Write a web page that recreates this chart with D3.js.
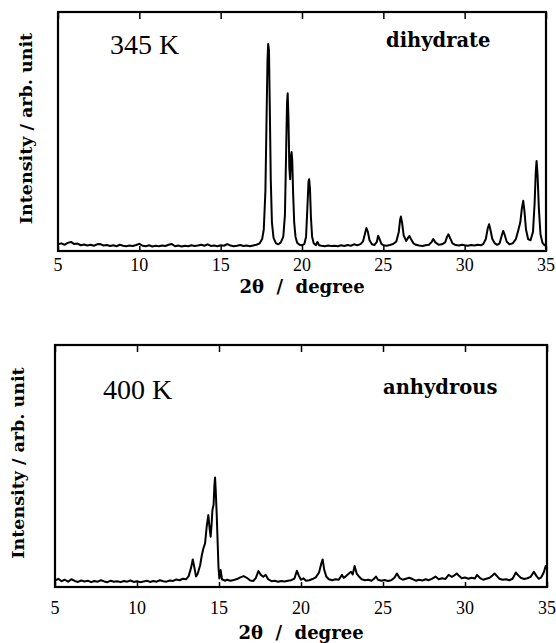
<!DOCTYPE html>
<html>
<head>
<meta charset="utf-8">
<script src="https://cdn.jsdelivr.net/npm/d3@7"></script>
<style>
  body { margin: 0; background: #fff; }
  svg text { fill: #000; }
  .tick-label { font-family: "Liberation Serif", serif; font-size: 18px; }
  .axis-title { font-family: "DejaVu Serif", serif; font-weight: bold; font-size: 18px; }
  .temp { font-family: "Liberation Serif", serif; font-size: 28px; }
  .phase { font-family: "DejaVu Serif", serif; font-weight: bold; font-size: 19.5px; }
</style>
</head>
<body>
<div id="chart"></div>
<script>
/* XRD patterns: dihydrate at 345 K, anhydrous at 400 K */

const xTicks = [5, 10, 15, 20, 25, 30, 35];

// [2theta, intensity] (arb. unit, 0-100 full panel)
const dihydrate = [
  [5.0,2.8],[5.2,3.2],[5.4,2.6],[5.6,3.4],[5.8,3.8],[6.0,2.9],[6.2,3.1],[6.4,2.4],[6.6,2.7],[6.8,2.3],
  [7.0,2.6],[7.2,2.2],[7.4,2.8],[7.6,2.9],[7.8,2.3],[8.0,2.5],[8.2,2.1],[8.4,2.4],[8.6,2.0],[8.8,2.6],
  [9.0,2.2],[9.2,2.0],[9.4,2.3],[9.6,2.1],[9.8,2.5],[10.0,3.0],[10.2,2.2],[10.4,2.0],[10.6,2.4],[10.8,1.9],
  [11.0,2.2],[11.2,2.0],[11.4,2.3],[11.6,2.1],[11.8,2.6],[12.0,2.9],[12.2,2.0],[12.4,2.3],[12.6,1.9],[12.8,2.2],
  [13.0,2.0],[13.2,2.4],[13.4,2.1],[13.6,2.3],[13.8,2.6],[14.0,2.2],[14.2,2.8],[14.4,2.1],[14.6,2.3],[14.8,2.0],
  [15.0,2.4],[15.2,2.2],[15.4,2.9],[15.6,2.3],[15.8,2.0],[16.0,2.2],[16.2,2.5],[16.4,2.1],[16.6,2.3],[16.8,2.0],
  [17.0,2.3],[17.2,2.6],[17.4,3.2],[17.55,5.0],[17.65,9],[17.75,25],[17.82,55],[17.88,80],[17.92,86.6],[17.97,84],
  [18.02,60],[18.08,30],[18.15,12],[18.25,5.5],[18.4,3.2],[18.55,2.8],[18.7,3.6],[18.85,6],[18.95,15],[19.02,40],
  [19.08,62],[19.12,66],[19.17,55],[19.22,35],[19.27,30],[19.33,40],[19.36,41.4],[19.40,38],[19.45,25],[19.52,12],
  [19.6,6],[19.7,3.5],[19.85,2.6],[20.0,2.4],[20.15,3.0],[20.25,6],[20.33,18],[20.40,29],[20.44,30],[20.49,26],
  [20.55,14],[20.62,6],[20.72,3.2],[20.85,2.4],[20.95,3.8],[21.05,2.4],[21.2,2.2],[21.4,2.0],[21.6,2.3],[21.8,2.1],
  [22.0,2.2],[22.2,2.0],[22.4,2.4],[22.6,2.1],[22.8,2.5],[23.0,2.2],[23.2,2.8],[23.4,2.4],[23.6,2.9],[23.75,4.0],
  [23.88,7.5],[23.96,9.6],[24.05,8],[24.15,4.5],[24.3,2.8],[24.45,2.5],[24.6,3.8],[24.68,6.4],[24.76,5.2],[24.88,3.0],
  [25.0,2.4],[25.2,2.2],[25.4,2.5],[25.6,2.9],[25.8,4],[25.95,8],[26.03,13],[26.08,14.4],[26.15,12],[26.25,6.5],
  [26.4,4.2],[26.52,5.5],[26.6,6.3],[26.7,5],[26.85,3.2],[27.0,2.6],[27.2,2.3],[27.4,2.1],[27.6,2.4],[27.8,2.6],
  [27.95,3.6],[28.07,5],[28.2,3.6],[28.4,2.6],[28.6,2.8],[28.8,3.6],[28.92,6],[29.0,7],[29.1,5.5],[29.25,3.2],
  [29.45,2.5],[29.65,2.3],[29.85,2.6],[30.0,2.4],[30.2,2.2],[30.4,2.5],[30.6,2.3],[30.8,2.6],[31.0,2.4],[31.15,3.0],
  [31.3,5],[31.42,9.5],[31.5,11.2],[31.58,9],[31.7,5],[31.85,3.2],[32.0,2.6],[32.15,3.2],[32.28,6.5],[32.37,8.4],
  [32.45,7],[32.58,4],[32.75,2.8],[32.95,3.2],[33.15,5],[33.3,8.8],[33.42,12],[33.52,18],[33.6,21],[33.67,17],
  [33.77,9],[33.9,5],[34.05,4.5],[34.2,8],[34.3,20],[34.37,33],[34.42,37.7],[34.48,32],[34.56,18],[34.66,7],
  [34.78,3.5],[34.9,2.5],[35.0,2.2]
];

const anhydrous = [
  [5.0,2.6],[5.2,3.4],[5.4,2.4],[5.6,3.0],[5.8,2.2],[6.0,3.2],[6.2,2.5],[6.4,2.1],[6.6,2.7],[6.8,2.3],
  [7.0,2.6],[7.2,2.0],[7.4,2.5],[7.6,2.2],[7.8,2.8],[8.0,2.3],[8.2,2.0],[8.4,2.6],[8.6,2.2],[8.8,2.4],
  [9.0,2.0],[9.2,2.5],[9.4,2.2],[9.6,2.7],[9.8,2.1],[10.0,2.4],[10.2,2.0],[10.4,2.3],[10.6,2.6],[10.8,2.1],
  [11.0,2.5],[11.2,2.2],[11.4,2.8],[11.6,2.4],[11.8,2.2],[12.0,2.7],[12.2,2.5],[12.4,3.1],[12.6,2.8],[12.8,3.4],
  [13.0,3.2],[13.15,4.5],[13.3,8],[13.4,11.4],[13.5,8],[13.6,4.3],[13.7,5.5],[13.85,9],[13.95,13],[14.05,16],
  [14.15,18],[14.25,25],[14.35,29.7],[14.43,24],[14.49,20.8],[14.55,26],[14.6,31.8],[14.67,34],[14.72,42],[14.76,45.2],
  [14.8,40],[14.86,30],[14.92,18],[14.97,8],[15.02,3.5],[15.1,7],[15.18,3.2],[15.35,2.6],[15.5,3.0],[15.7,2.6],
  [15.9,2.9],[16.1,3.3],[16.3,4.0],[16.5,4.5],[16.7,3.8],[16.9,2.7],[17.1,2.5],[17.25,3.8],[17.4,6.6],[17.55,5],
  [17.7,4.2],[17.85,5],[18.0,3.2],[18.2,2.4],[18.4,2.6],[18.6,2.2],[18.8,2.5],[19.0,2.3],[19.2,2.6],[19.4,2.8],
  [19.6,3.5],[19.75,6.7],[19.88,4.5],[20.0,3.0],[20.15,3.6],[20.3,2.6],[20.5,2.8],[20.7,3.3],[20.9,4.0],[21.1,6],
  [21.25,10],[21.32,11.4],[21.42,7],[21.55,4.2],[21.7,3.2],[21.9,2.8],[22.1,3.2],[22.3,3.0],[22.5,5.0],[22.6,3.8],
  [22.75,4.5],[22.9,5.5],[23.05,6.3],[23.15,5.2],[23.27,8.7],[23.4,5.5],[23.55,4.2],[23.7,3.2],[23.9,2.8],[24.1,3.0],
  [24.3,2.6],[24.45,3.4],[24.57,4.3],[24.7,3.0],[24.9,2.6],[25.1,2.9],[25.3,2.5],[25.5,2.8],[25.7,3.8],[25.85,5.6],
  [26.0,3.8],[26.2,3.0],[26.4,3.4],[26.6,3.8],[26.8,3.3],[27.0,2.6],[27.2,3.0],[27.4,2.7],[27.6,3.2],[27.8,2.8],
  [28.0,3.5],[28.2,4.3],[28.4,3.2],[28.6,3.6],[28.8,3.3],[29.0,5.0],[29.2,4.2],[29.35,4.8],[29.5,5.6],[29.65,4.5],
  [29.8,3.6],[30.0,3.9],[30.2,3.4],[30.4,3.8],[30.6,3.5],[30.73,5],[30.9,3.8],[31.1,3.0],[31.3,3.4],[31.5,3.8],
  [31.65,4.6],[31.8,5.6],[31.95,4.5],[32.1,3.4],[32.3,3.0],[32.5,3.2],[32.7,2.8],[32.9,3.4],[33.1,6],[33.25,4.8],
  [33.4,3.8],[33.6,3.3],[33.8,3.6],[34.0,4.2],[34.2,6.3],[34.35,4.6],[34.5,3.4],[34.65,4.0],[34.8,6],[34.92,8.7],
  [35.0,7.5]
];

const width = 556, height = 643;

const svg = d3.select("#chart")
  .append("svg")
  .attr("width", width)
  .attr("height", height);

drawPanel(dihydrate, { left: 58, right: 546, top: 12, bottom: 251, labelY: 271, titleY: 293, yLabelX: 32 }, "345 K", "dihydrate", [110, 54], [386, 47]);
drawPanel(anhydrous, { left: 55, right: 547, top: 345, bottom: 587, labelY: 614, titleY: 639, yLabelX: 24 }, "400 K", "anhydrous", [103, 399], [383, 394]);

function drawPanel(data, box, temp, phase, tempPos, phasePos) {
  const x = d3.scaleLinear().domain([5, 35]).range([box.left, box.right]);
  const y = d3.scaleLinear().domain([0, 100]).range([box.bottom, box.top]);

  const g = svg.append("g");

  // ticks inside the frame, top and bottom
  g.append("g")
    .attr("transform", `translate(0,${box.bottom})`)
    .call(d3.axisTop(x).tickValues(xTicks).tickSize(5).tickFormat(""))
    .call((a) => a.select(".domain").remove())
    .selectAll("line").attr("stroke-width", 1.5);

  g.append("g")
    .attr("transform", `translate(0,${box.top})`)
    .call(d3.axisBottom(x).tickValues(xTicks).tickSize(7).tickFormat(""))
    .call((a) => a.select(".domain").remove())
    .selectAll("line").attr("stroke-width", 1.5);

  // tick labels
  g.selectAll(".tick-label")
    .data(xTicks)
    .join("text")
    .attr("class", "tick-label")
    .attr("x", (d) => x(d))
    .attr("y", box.labelY)
    .attr("text-anchor", "middle")
    .text((d) => d);

  // the pattern
  const line = d3.line()
    .x((d) => x(d[0]))
    .y((d) => y(d[1]));

  g.append("path")
    .datum(data)
    .attr("fill", "none")
    .attr("stroke", "#000")
    .attr("stroke-width", 2)
    .attr("stroke-linejoin", "round")
    .attr("d", line);

  // frame
  g.append("rect")
    .attr("x", box.left)
    .attr("y", box.top)
    .attr("width", box.right - box.left)
    .attr("height", box.bottom - box.top)
    .attr("fill", "none")
    .attr("stroke", "#000")
    .attr("stroke-width", 2.2);

  g.append("text")
    .attr("class", "axis-title")
    .attr("x", (box.left + box.right) / 2)
    .attr("y", box.titleY)
    .attr("text-anchor", "middle")
    .attr("xml:space", "preserve")
    .text("2\u03b8  /  degree");

  g.append("text")
    .attr("class", "axis-title")
    .attr("transform", `translate(${box.yLabelX},${(box.top + box.bottom) / 2 - 3}) rotate(-90)`)
    .attr("text-anchor", "middle")
    .style("font-size", "17.5px")
    .text("Intensity / arb. unit");

  g.append("text")
    .attr("class", "temp")
    .attr("x", tempPos[0])
    .attr("y", tempPos[1])
    .text(temp);

  g.append("text")
    .attr("class", "phase")
    .attr("x", phasePos[0])
    .attr("y", phasePos[1])
    .text(phase);
}
</script>
</body>
</html>
